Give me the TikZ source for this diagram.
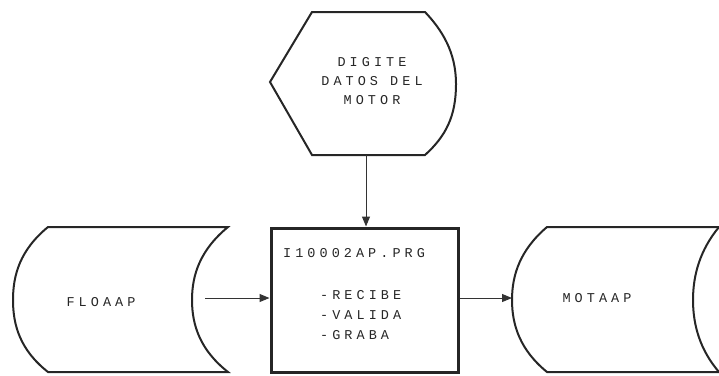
\documentclass[tikz,border=0pt]{standalone}
\usepackage{fontspec}
\setmonofont{Liberation Mono}[LetterSpace=30]
\usetikzlibrary{arrows.meta}
\tikzset{
  shapeline/.style={line width=2pt, draw=black!85},
  procbox/.style={draw=black!85, line width=3pt, minimum width=187pt, minimum height=144pt, inner sep=0pt},
  lbl/.style={font=\ttfamily\fontsize{13.5pt}{19pt}\selectfont, text=black!85, align=center, inner sep=0pt},
  conn/.style={line width=1pt, draw=black!80, -{Triangle[length=10pt,width=8pt]}}
}
\begin{document}
\begin{tikzpicture}[x=1pt,y=-1pt]
\useasboundingbox (0,0) rectangle (719,375);
% display shape
\draw[shapeline] (312,12) -- (425,12) .. controls (442,30) and (456,52) .. (456,84)
  .. controls (456,116) and (446,136) .. (425,155) -- (312,155) -- (270,82) -- cycle;
\node[lbl] (disp) at (372,81) {DIGITE\\DATOS DEL\\MOTOR};
\coordinate (dispb) at (366,155);
% process box
\node[procbox] (proc) at (364.5,300) {};
\node[lbl, anchor=west] (prt) at (283,253) {I10002AP.PRG};
\node[lbl, anchor=north west, align=left, font=\ttfamily\fontsize{13.5pt}{20pt}\selectfont] (ops) at (320,290) {-RECIBE\\-VALIDA\\-GRABA};
% FLOAAP storage
\draw[shapeline] (48,227) -- (228,227) .. controls (200,250) and (192,275) .. (192,300)
  .. controls (192,325) and (200,350) .. (228,372) -- (48,372)
  .. controls (20,350) and (13,325) .. (13,300) .. controls (13,275) and (20,250) .. (48,227) -- cycle;
\node[lbl] (flo) at (101,302) {FLOAAP};
\coordinate (floR) at (205,298);
% MOTAAP storage
\draw[shapeline] (719,227) -- (547,227) .. controls (520,250) and (512,275) .. (512,300)
  .. controls (512,325) and (520,350) .. (547,372) -- (719,372);
\draw[shapeline] (719,227) .. controls (700,250) and (693,275) .. (693,300)
  .. controls (693,325) and (700,350) .. (719,372);
\node[lbl] (mot) at (597,298) {MOTAAP};
\coordinate (motL) at (512,298);
% connectors
\draw[conn] (dispb) -- (dispb |- proc.north);
\draw[conn] (floR) -- (proc.west |- floR);
\draw[conn] (proc.east |- motL) -- (motL);
\end{tikzpicture}
\end{document}
